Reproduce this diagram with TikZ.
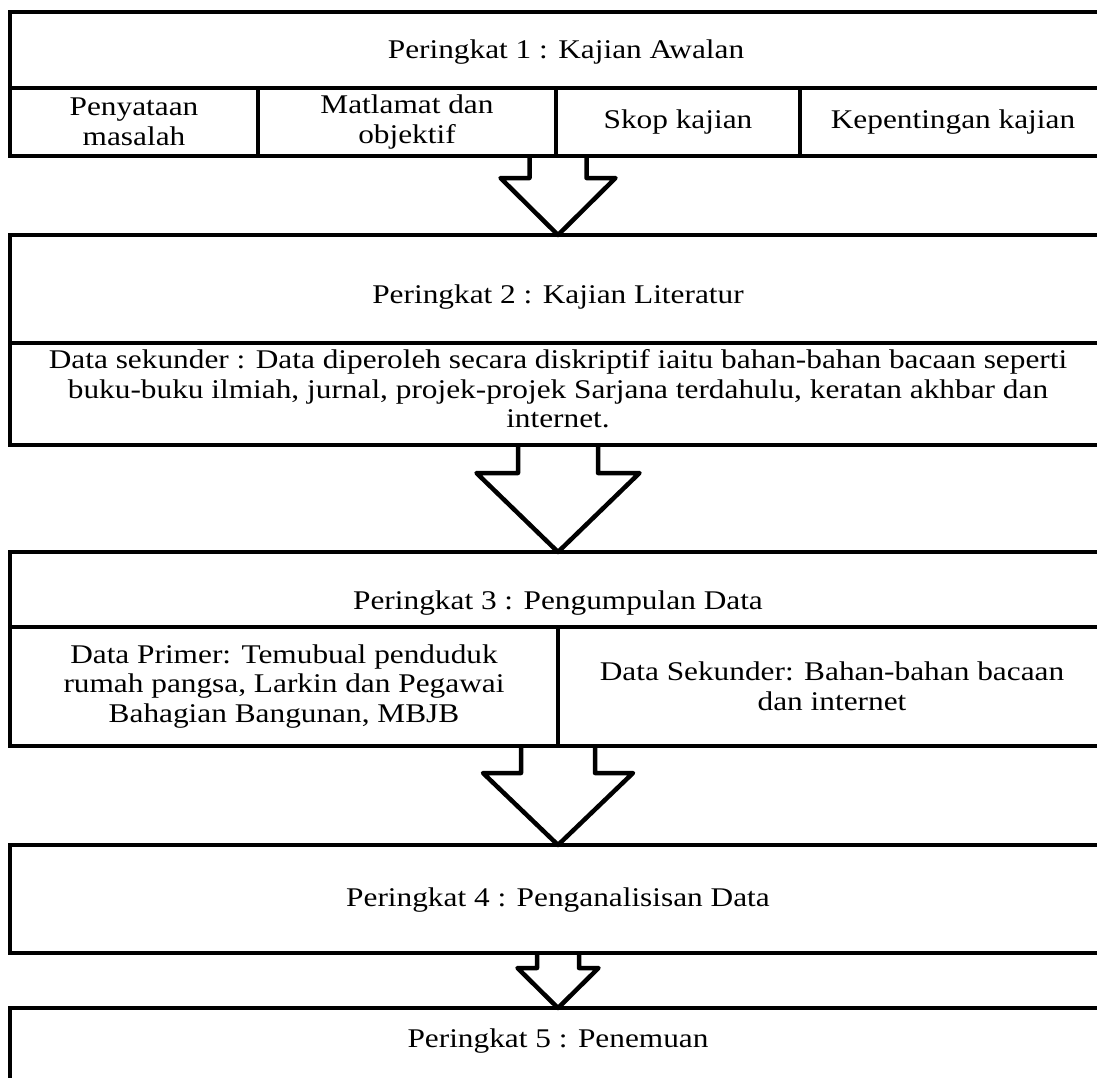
\documentclass[tikz,border=0pt]{standalone}
\usepackage{fontspec}
\setmainfont{Liberation Serif}[FakeStretch=1.16]
\usetikzlibrary{positioning,calc}

\tikzset{
	stage/.style={draw, line width=4.5pt, inner sep=0pt, outer sep=0pt, minimum width=1096pt, anchor=north west},
	cell/.style={draw, line width=4.5pt, inner sep=0pt, outer sep=0pt, align=center, anchor=north west, font=\fontsize{27}{29.5}\selectfont},
	title/.style={inner sep=0pt, align=center, font=\fontsize{27}{29.5}\selectfont},
	blockarrow/.style={draw, line width=4.5pt, line join=round},
}

% block arrow: from, to, shaft half width, head half width, shaft length
\newcommand{\flowarrow}[5]{%
	\draw[blockarrow] ($(#1.south)+(-#3,0)$) -- ++(0,#5) -- ++(#3-#4,0) -- (#2.north)
		-- ($(#1.south)+(#4,#5)$) -- ++(#3-#4,0) -- ($(#1.south)+(#3,0)$);}

\begin{document}
\begin{tikzpicture}[x=1pt, y=-1pt]
	\useasboundingbox (0,0) rectangle (1097,1077);
	\clip (0,0) rectangle (1097,1077);
	
	% Peringkat 1
	\node[stage, minimum height=144pt] (p1) at (10,12) {};
	\node[title] (t1) at (566,52) {Peringkat 1 : Kajian Awalan};
	\node[cell, minimum width=248pt, minimum height=68pt] (c1) at (10,88) {Penyataan\\masalah};
	\node[cell, minimum width=298pt, minimum height=68pt] (c2) at (c1.north east) {Matlamat dan\\objektif};
	\node[cell, minimum width=244pt, minimum height=68pt] (c3) at (c2.north east) {Skop kajian};
	\node[cell, minimum width=306pt, minimum height=68pt] (c4) at (c3.north east) {Kepentingan kajian};
	
	% Peringkat 2
	\node[stage, minimum height=210pt] (p2) at (10,235) {};
	\node[title] (t2) at (558,297) {Peringkat 2 : Kajian Literatur};
	\node[cell, minimum width=1096pt, minimum height=102pt] (d2) at (10,343) {};
	\node[title] (d2t) at (558,389) {Data sekunder : Data diperoleh secara diskriptif iaitu bahan-bahan bacaan seperti\\buku-buku ilmiah, jurnal, projek-projek Sarjana terdahulu, keratan akhbar dan\\internet.};
	
	% Peringkat 3
	\node[stage, minimum height=194pt] (p3) at (10,552) {};
	\node[title] (t3) at (558,603) {Peringkat 3 : Pengumpulan Data};
	\node[cell, minimum width=548pt, minimum height=119pt] (e1) at (10,627) {Data Primer: Temubual penduduk\\rumah pangsa, Larkin dan Pegawai\\Bahagian Bangunan, MBJB};
	\node[cell, minimum width=548pt, minimum height=119pt] (e2) at (e1.north east) {Data Sekunder: Bahan-bahan bacaan\\dan internet};
	
	% Peringkat 4
	\node[stage, minimum height=108pt] (p4) at (10,845) {};
	\node[title] (t4) at (558,900) {Peringkat 4 : Penganalisisan Data};
	
	% Peringkat 5
	\node[stage, minimum height=100pt] (p5) at (10,1008) {};
	\node[title] (t5) at (558,1041) {Peringkat 5 : Penemuan};
	
	% Arrows between stages
	\flowarrow{p1}{p2}{28.5}{57.5}{22}
	\flowarrow{p2}{p3}{40}{81.5}{28}
	\flowarrow{p3}{p4}{37}{75}{27}
	\flowarrow{p4}{p5}{21}{40.5}{15}
	
\end{tikzpicture}
\end{document}
